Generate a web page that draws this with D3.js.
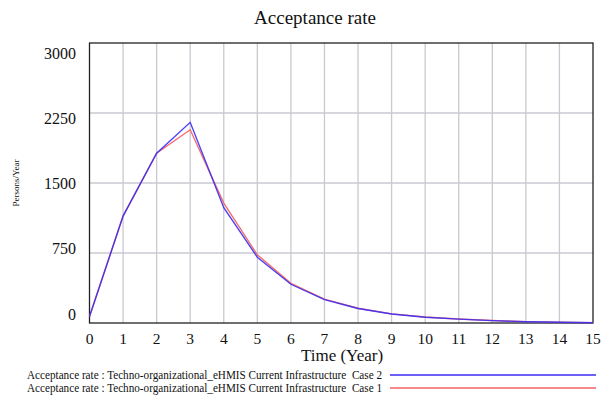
<!DOCTYPE html>
<html>
<head>
<meta charset="utf-8">
<script src="https://cdn.jsdelivr.net/npm/d3@7"></script>
<style>
  body { margin: 0; background: #fff; }
  text { font-family: "Liberation Serif", "DejaVu Serif", serif; fill: #111; }
</style>
</head>
<body>
<svg id="chart" width="602" height="397"></svg>
<script>
// time axis (years)
var years = [0, 1, 2, 3, 4, 5, 6, 7, 8, 9, 10, 11, 12, 13, 14, 15];
// Case 2 (blue) and Case 1 (red), persons/year
var case2 = [70, 1145, 1820, 2150, 1235, 705, 415, 250, 155, 96, 62, 42, 25, 14, 8, 3];
var case1 = [70, 1145, 1820, 2070, 1285, 730, 425, 255, 158, 98, 64, 43, 26, 15, 9, 4];
var yTicks = [0, 750, 1500, 2250, 3000];
var legendLabels = [
  'Acceptance rate : Techno-organizational_eHMIS Current Infrastructure  Case 2',
  'Acceptance rate : Techno-organizational_eHMIS Current Infrastructure  Case 1'
];
var seriesColors = ['#3a2cf5', '#f26060'];

var svg = d3.select('#chart');
var plotL = 89.5, plotR = 593, plotT = 43, plotB = 323;

var x = d3.scaleLinear().domain([0, 15]).range([plotL, plotR]);
var y = d3.scaleLinear().domain([0, 3000]).range([plotB, plotT]);
// Vensim keeps the end labels inside the frame
var yLabel = d3.scaleLinear().domain([0, 3000]).range([314, 53]);

// grid
svg.append('g').selectAll('line')
  .data(years.slice(1, -1))
  .enter().append('line')
  .attr('x1', d => x(d)).attr('x2', d => x(d))
  .attr('y1', plotT).attr('y2', plotB)
  .attr('stroke', '#c9c9d1').attr('stroke-width', 1.3);
svg.append('g').selectAll('line')
  .data(yTicks.slice(1, -1))
  .enter().append('line')
  .attr('x1', plotL).attr('x2', plotR)
  .attr('y1', d => y(d)).attr('y2', d => y(d))
  .attr('stroke', '#c9c9d1').attr('stroke-width', 1.3);

// frame
svg.append('rect')
  .attr('x', plotL).attr('y', plotT)
  .attr('width', plotR - plotL).attr('height', plotB - plotT)
  .attr('fill', 'none').attr('stroke', '#222').attr('stroke-width', 1.3);

// lines (red underneath, blue on top)
var line = d3.line().x((d, i) => x(years[i])).y(d => y(d));
[case1, case2].forEach(function(s, k) {
  svg.append('path')
    .datum(s)
    .attr('d', line)
    .attr('fill', 'none')
    .attr('stroke', k == 0 ? seriesColors[1] : seriesColors[0])
    .attr('stroke-width', 1.4)
    .attr('opacity', 0.9);
});

// x tick labels
svg.append('g').selectAll('text')
  .data(years)
  .enter().append('text')
  .attr('x', d => x(d))
  .attr('y', 344)
  .attr('text-anchor', 'middle')
  .style('font-size', '15.5px')
  .text(d => d);

// y tick labels
svg.append('g').selectAll('text')
  .data(yTicks)
  .enter().append('text')
  .attr('x', 76)
  .attr('y', d => yLabel(d) + 5.5)
  .attr('text-anchor', 'end')
  .style('font-size', '16px')
  .text(d => d);

// titles
svg.append('text')
  .attr('x', 315).attr('y', 24)
  .attr('text-anchor', 'middle')
  .style('font-size', '19px')
  .text('Acceptance rate');

svg.append('text')
  .attr('x', 342).attr('y', 361)
  .attr('text-anchor', 'middle')
  .style('font-size', '17px')
  .text('Time (Year)');

svg.append('text')
  .attr('transform', 'translate(19,183) rotate(-90)')
  .attr('text-anchor', 'middle')
  .style('font-size', '9px')
  .text('Persons/Year');

// legend
var legend = svg.append('g').selectAll('g')
  .data(legendLabels)
  .enter().append('g')
  .attr('transform', (d, i) => 'translate(0,' + (375 + i * 13) + ')');
legend.append('text')
  .attr('x', 27).attr('y', 4)
  .attr('textLength', 355)
  .attr('lengthAdjust', 'spacingAndGlyphs')
  .style('font-size', '11.5px')
  .style('white-space', 'pre')
  .text(d => d);
legend.append('line')
  .attr('x1', 390).attr('x2', 596)
  .attr('y1', 0).attr('y2', 0)
  .attr('stroke', (d, i) => seriesColors[i])
  .attr('stroke-width', 1.3);
</script>
</body>
</html>
